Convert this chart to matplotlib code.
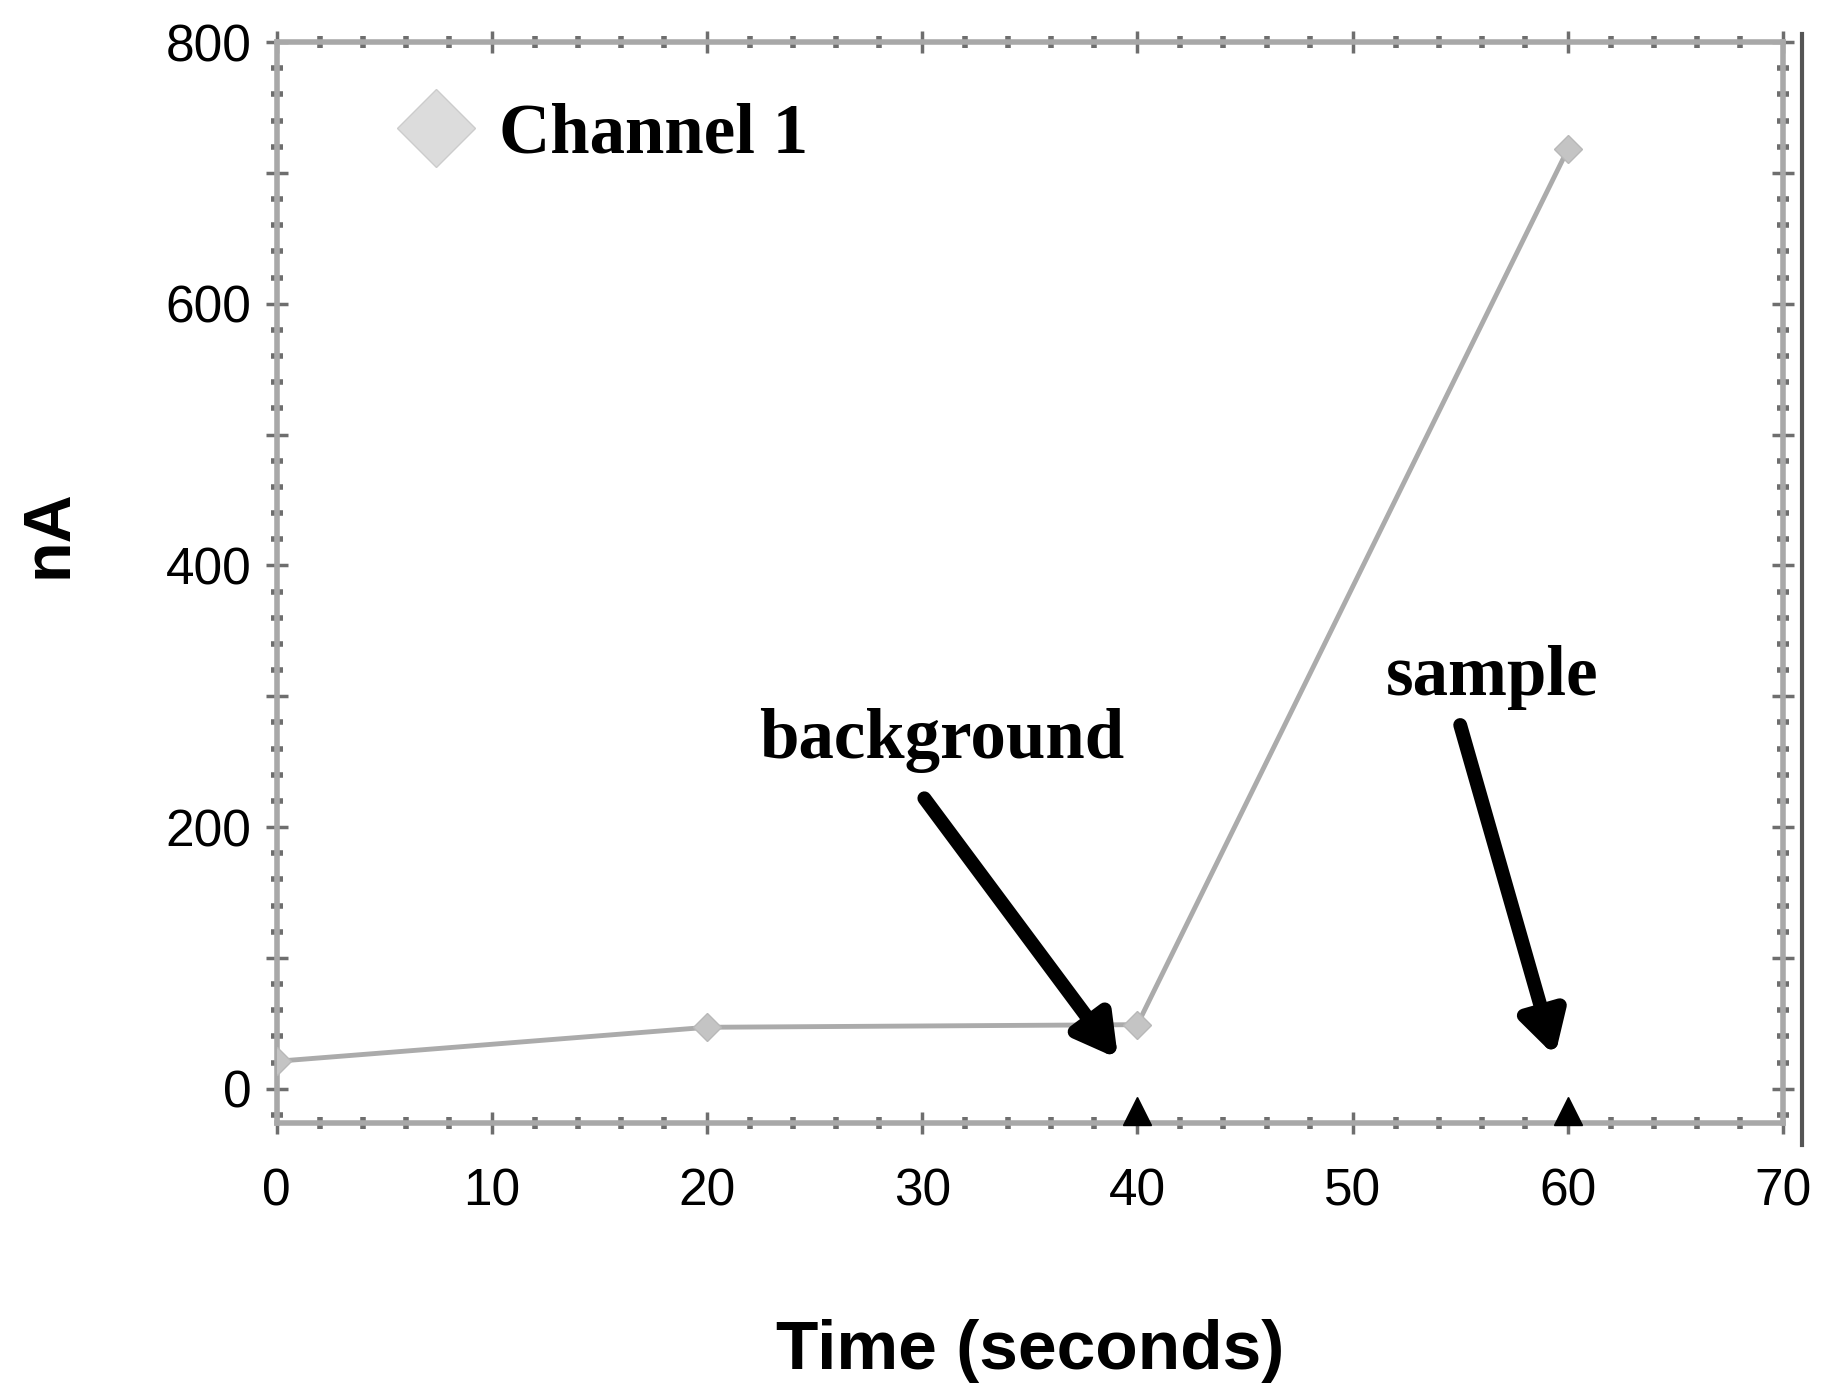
import matplotlib
matplotlib.use("Agg")
import matplotlib.pyplot as plt
from matplotlib.lines import Line2D
from matplotlib.ticker import MultipleLocator, FuncFormatter

# channel 1 readout (nA) sampled every 20 s
time_s = [0, 20, 40, 60]
current_na = [21, 47, 49, 718]

# event markers drawn on the time axis
event_times = [40, 60]
event_level = [-17, -17]

# arrow labels: (text, text x, text y, tip x, tip y)
callouts = [
    ("background", 30.9, 266, 39.1, 23),
    ("sample", 56.5, 314, 59.4, 25),
]
arrow_tails = [(30.1, 222), (55.0, 278)]

fig = plt.figure(figsize=(18.22, 14.0), dpi=100)
fig.patch.set_facecolor("white")
ax = fig.add_axes([0.1518, 0.198, 0.8268, 0.772])

ax.plot(time_s, current_na, color="#ababab", linewidth=3.5, zorder=3)
ax.plot(time_s, current_na, linestyle="none", marker="D", markersize=14,
        markerfacecolor="#c4c4c4", markeredgecolor="#b8b8b8", zorder=4)
ax.plot(event_times, event_level, linestyle="none", marker="^", markersize=20,
        color="black", zorder=5, clip_on=False)

serif = dict(family="Liberation Serif", fontweight="bold", fontsize=51)
for (label, tx, ty, hx, hy), (ax0, ay0) in zip(callouts, arrow_tails):
    ax.text(tx, ty, label, ha="center", va="center", **serif)
    ax.annotate("", xy=(hx, hy), xytext=(ax0, ay0),
                arrowprops=dict(arrowstyle="-|>,head_length=0.8,head_width=0.45",
                                color="black", lw=10, mutation_scale=30,
                                shrinkA=0, shrinkB=0))

handle = Line2D([], [], linestyle="none", marker="D", markersize=40,
                markerfacecolor="#dcdcdc", markeredgecolor="#cccccc")
leg = ax.legend([handle], ["Channel 1"], loc="upper left",
                bbox_to_anchor=(0.035, 1.003), frameon=False,
                prop=dict(family="Liberation Serif", weight="bold", size=51),
                handletextpad=0.3, handlelength=1.2)

ax.set_xlim(0, 70)
ax.set_ylim(-26, 800)
ax.xaxis.set_major_locator(MultipleLocator(10))
ax.xaxis.set_minor_locator(MultipleLocator(2))
ax.yaxis.set_major_locator(MultipleLocator(100))
ax.yaxis.set_minor_locator(MultipleLocator(20))
ax.yaxis.set_major_formatter(FuncFormatter(lambda v, p: f"{int(v)}" if v % 200 == 0 else ""))

for side in ["top", "bottom", "left", "right"]:
    ax.spines[side].set_color("#a8a8a8")
    ax.spines[side].set_linewidth(4)

ax.tick_params(which="both", direction="inout", color="#6e6e6e",
               top=True, right=True)
ax.tick_params(which="major", length=16, width=2.5, labelsize=37)
ax.tick_params(which="minor", length=9, width=4)
ax.tick_params(axis="x", which="major", pad=24)
ax.tick_params(axis="y", which="major", pad=10)
for lab in ax.get_xticklabels() + ax.get_yticklabels():
    lab.set_family("Liberation Sans")

ax.set_xlabel("Time (seconds)", family="Liberation Sans", fontweight="bold",
              fontsize=50, labelpad=74)
ax.set_ylabel("nA", family="Liberation Sans", fontweight="bold", fontsize=48)
ax.yaxis.set_label_coords(-0.13, 0.545)

# border line at the right edge of the original frame
fig.add_artist(Line2D([0.989, 0.989], [0.182, 0.976], color="#555555",
                      linewidth=3, transform=fig.transFigure))

plt.savefig("out.png", dpi=100)
plt.close()
